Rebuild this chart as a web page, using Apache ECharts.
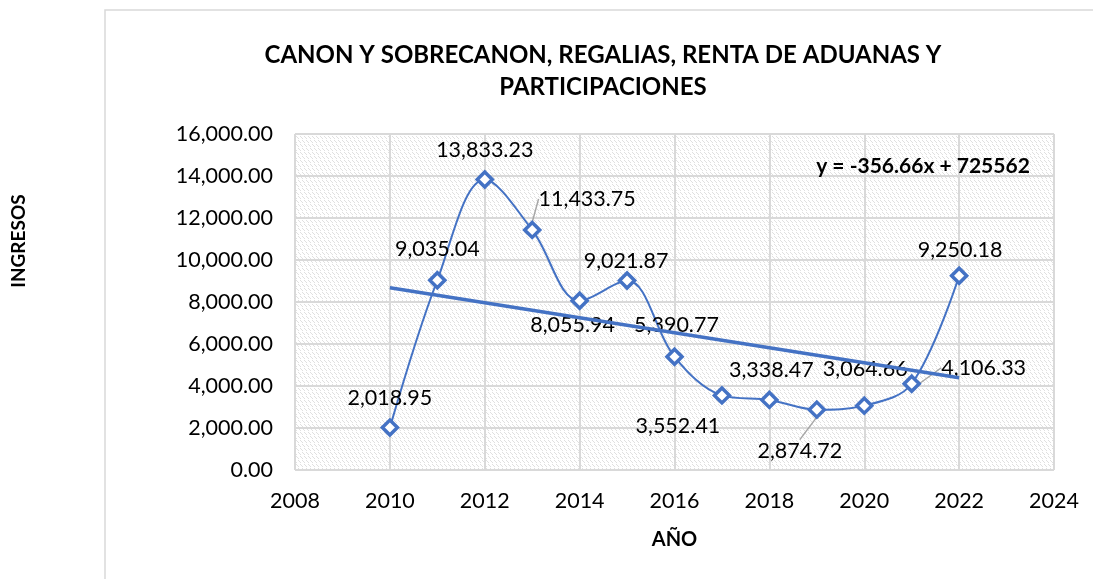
<!DOCTYPE html>
<html><head><meta charset="utf-8">
<script src="https://cdn.jsdelivr.net/npm/echarts@6/dist/echarts.min.js"></script>
<style>html,body{margin:0;padding:0;background:#fff}#c{width:1093px;height:579px}</style>
</head><body><div id="c"></div>
<script>
var years = [2010,2011,2012,2013,2014,2015,2016,2017,2018,2019,2020,2021,2022];
var ingresos = [2018.95,9035.04,13833.23,11433.75,8055.94,9021.87,5390.77,3552.41,3338.47,2874.72,3064.66,4106.33,9250.18];
var trendYears = [2010, 2022];
var trendValues = [8675.4, 4395.5];
var titleLines = ['CANON Y SOBRECANON, REGALIAS, RENTA DE ADUANAS Y', 'PARTICIPACIONES'];
var equationText = 'y = -356.66x + 725562';
var labelOffsets = [[0,-30],[0,-31],[0,-29],[55,-31],[-7,24],[-1,-19],[2,-32],[-44,31],[2,-30],[-17,41],[1,-37],[72,-16],[1,-26]];
var leaderIdx = [3,9,11];

var FONT = 'Lato, "Open Sans", sans-serif';
var BLUE = '#4472C4';

function makePattern(){
  var c = document.createElement('canvas');
  c.width = 8; c.height = 8;
  var g = c.getContext('2d');
  g.fillStyle = '#ffffff'; g.fillRect(0,0,8,8);
  g.fillStyle = '#e0e0e0';
  var pts = [[0,0],[1,1],[4,0],[5,1],[2,4],[3,5],[6,4],[7,5],[0,6],[4,6],[2,2],[6,2]];
  pts.forEach(function(p){ g.fillRect(p[0],p[1],1,1); });
  return c;
}

function fmt(v){
  return v.toLocaleString('en-US',{minimumFractionDigits:2,maximumFractionDigits:2});
}

var seriesData = years.map(function(y,i){
  var d = {value:[y, ingresos[i]]};
  if (leaderIdx.indexOf(i) >= 0) d.labelLine = {show:true};
  return d;
});
var trendData = trendYears.map(function(y,i){ return [y, trendValues[i]]; });

var chart = echarts.init(document.getElementById('c'), null, {renderer:'canvas'});
chart.setOption({
  animation:false,
  backgroundColor:'#ffffff',
  textStyle:{fontFamily:FONT},
  grid:{left:295, right:39, top:134, bottom:109, show:true,
        backgroundColor:{image:makePattern(), repeat:'repeat'}, borderColor:'#d9d9d9', borderWidth:1},
  xAxis:{type:'value', min:2008, max:2024, interval:2,
    name:'AÑO', nameLocation:'middle', nameGap:60,
    nameTextStyle:{fontFamily:FONT, fontWeight:'bold', fontSize:20, color:'#000'},
    axisLine:{show:false}, axisTick:{show:false},
    axisLabel:{fontFamily:FONT, fontSize:21.5, color:'#000', margin:20, formatter:function(v){return String(v);}},
    splitLine:{show:true, lineStyle:{color:'#d9d9d9', width:2}}},
  yAxis:{type:'value', min:0, max:16000, interval:2000,
    axisLine:{show:false}, axisTick:{show:false},
    axisLabel:{fontFamily:FONT, fontSize:21.5, color:'#000', margin:22, formatter:fmt},
    splitLine:{show:true, lineStyle:{color:'#d9d9d9', width:2}}},
  graphic:[
    {type:'rect', shape:{x:105, y:10, width:1100, height:700}, style:{fill:'none', stroke:'#d9d9d9', lineWidth:1.5}, z:-10, silent:true},
    {type:'text', x:603, y:55, style:{text:titleLines[0], fontFamily:FONT, fontWeight:'bold', fontSize:24, fill:'#000', textAlign:'center', textVerticalAlign:'middle'}},
    {type:'text', x:603, y:87, style:{text:titleLines[1], fontFamily:FONT, fontWeight:'bold', fontSize:24, fill:'#000', textAlign:'center', textVerticalAlign:'middle'}},
    {type:'text', x:923, y:166, style:{text:equationText, fontFamily:FONT, fontWeight:'bold', fontSize:21, fill:'#000', textAlign:'center', textVerticalAlign:'middle'}, z:100},
    {type:'text', x:19, y:241, rotation:Math.PI/2, style:{text:'INGRESOS', fontFamily:FONT, fontWeight:'bold', fontSize:19, fill:'#000', textAlign:'center', textVerticalAlign:'middle'}}
  ],
  series:[
    {type:'line', data:seriesData, smooth:0.35, z:3,
     lineStyle:{color:BLUE, width:2},
     symbol:'diamond', symbolSize:15,
     itemStyle:{color:'#ffffff', borderColor:BLUE, borderWidth:3.5},
     label:{show:true, position:'inside', fontFamily:FONT, fontSize:21.5, color:'#000',
       formatter:function(p){ return fmt(p.value[1]); }},
     labelLine:{show:false, lineStyle:{color:'#a6a6a6', width:1.5}},
     labelLayout:function(p){ var o = labelOffsets[p.dataIndex]; return {dx:o[0], dy:o[1]}; }
    },
    {type:'line', data:trendData, symbol:'none', z:4, silent:true,
     lineStyle:{color:BLUE, width:3.5}}
  ]
});
</script></body></html>
